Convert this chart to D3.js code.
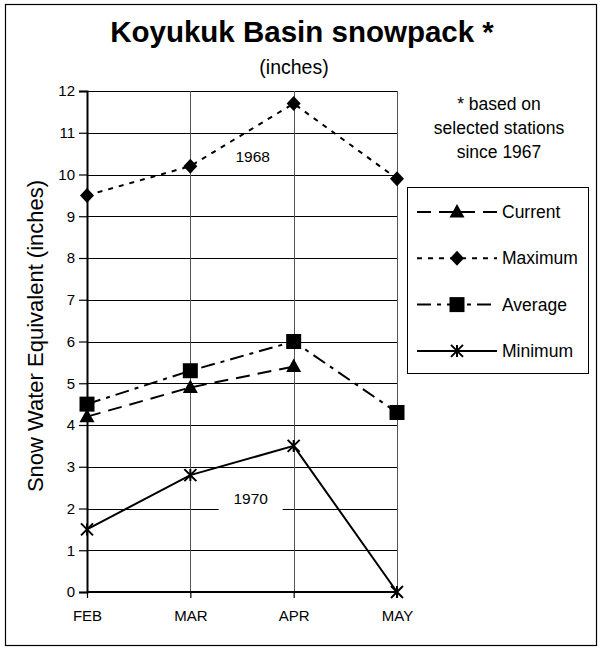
<!DOCTYPE html>
<html>
<head>
<meta charset="utf-8">
<script src="https://cdn.jsdelivr.net/npm/d3@7"></script>
<style>
  body { margin: 0; background: #fff; }
  text { font-family: "Liberation Sans", Arial, sans-serif; fill: #000; }
</style>
</head>
<body>
<div id="chart"></div>
<script>
// chart data
const months = ['FEB', 'MAR', 'APR', 'MAY'];
const yTicks = [0, 1, 2, 3, 4, 5, 6, 7, 8, 9, 10, 11, 12];
const current = [4.2, 4.9, 5.4, null];
const maximum = [9.5, 10.2, 11.7, 9.9];
const average = [4.5, 5.3, 6.0, 4.3];
const minimum = [1.5, 2.8, 3.5, 0];
const seriesNames = ['Current', 'Maximum', 'Average', 'Minimum'];
const noteLines = ['* based on', 'selected stations', 'since 1967'];
const yearLabels = [{text: '1968', month: 'APR', value: 10.45, dx: -41}, {text: '1970', month: 'APR', value: 2.25, dx: -43}];

const width = 600, height = 648;
const margin = {left: 87, right: 203, top: 91, bottom: 56};
const fontFam = '"Liberation Sans", Arial, sans-serif';

const svg = d3.select('#chart').append('svg')
  .attr('width', width)
  .attr('height', height);

// outer frame
svg.append('rect')
  .attr('x', 5.5).attr('y', 4.5)
  .attr('width', 591).attr('height', 641)
  .attr('fill', '#fff')
  .attr('stroke', '#000')
  .attr('stroke-width', 1.2);

const x = d3.scalePoint()
  .domain(months)
  .range([margin.left, width - margin.right]);

const y = d3.scaleLinear()
  .domain([0, 12])
  .range([height - margin.bottom, margin.top]);

// gridlines
svg.append('g')
  .selectAll('line')
  .data(yTicks)
  .enter().append('line')
  .attr('x1', x('FEB')).attr('x2', x('MAY'))
  .attr('y1', d => Math.round(y(d)) + 0.5).attr('y2', d => Math.round(y(d)) + 0.5)
  .attr('stroke', '#000')
  .attr('stroke-width', 1);

svg.append('g')
  .selectAll('line')
  .data(months.slice(1))
  .enter().append('line')
  .attr('x1', d => Math.round(x(d)) + 0.5).attr('x2', d => Math.round(x(d)) + 0.5)
  .attr('y1', y(12)).attr('y2', y(0))
  .attr('stroke', '#555')
  .attr('stroke-width', 1);

// axes
const yAxis = d3.axisLeft(y).tickValues(yTicks).tickSize(8).tickPadding(4);
const gy = svg.append('g')
  .attr('transform', 'translate(' + x('FEB') + ',0)')
  .call(yAxis);
gy.select('.domain').attr('stroke-width', 2);
gy.selectAll('.tick line').attr('stroke-width', 1.2);
gy.selectAll('text').style('font-size', '15px').style('font-family', fontFam);

const xAxis = d3.axisBottom(x).tickSize(6).tickPadding(12);
const gx = svg.append('g')
  .attr('transform', 'translate(0,' + y(0) + ')')
  .call(xAxis);
gx.select('.domain').attr('stroke-width', 2).attr('d', 'M' + x('FEB') + ',0H' + x('MAY'));
gx.selectAll('.tick line').attr('stroke-width', 1.2);
gx.selectAll('text').style('font-size', '15px').style('font-family', fontFam);

// year labels with white boxes
yearLabels.forEach(function(l) {
  const cx = x(l.month) + l.dx;
  const cy = y(l.value);
  svg.append('rect')
    .attr('x', cx - 32).attr('y', cy - 16)
    .attr('width', 64).attr('height', 30)
    .attr('fill', '#fff');
  svg.append('text')
    .attr('x', cx).attr('y', cy + 6)
    .attr('text-anchor', 'middle')
    .style('font-size', '15.5px')
    .text(l.text);
});

// markers
function drawMarker(g, type, px, py) {
  if (type === 'triangle') {
    g.append('path')
      .attr('d', 'M' + px + ',' + (py - 8) + 'L' + (px + 7.5) + ',' + (py + 5.5) + 'L' + (px - 7.5) + ',' + (py + 5.5) + 'Z')
      .attr('fill', '#000');
  } else if (type === 'diamond') {
    g.append('path')
      .attr('d', 'M' + px + ',' + (py - 7.5) + 'L' + (px + 7) + ',' + py + 'L' + px + ',' + (py + 7.5) + 'L' + (px - 7) + ',' + py + 'Z')
      .attr('fill', '#000');
  } else if (type === 'square') {
    g.append('rect')
      .attr('x', px - 7.5).attr('y', py - 7.5)
      .attr('width', 15).attr('height', 15)
      .attr('fill', '#000');
  } else if (type === 'star') {
    g.append('path')
      .attr('d', 'M' + (px - 6) + ',' + (py - 6) + 'L' + (px + 6) + ',' + (py + 6) +
                 'M' + (px + 6) + ',' + (py - 6) + 'L' + (px - 6) + ',' + (py + 6) +
                 'M' + px + ',' + (py - 6) + 'L' + px + ',' + (py + 6))
      .attr('stroke', '#000')
      .attr('stroke-width', 2)
      .attr('fill', 'none');
  }
}

const series = [
  {name: 'Current', values: current, dash: '14,8', marker: 'triangle'},
  {name: 'Maximum', values: maximum, dash: '5,6', marker: 'diamond'},
  {name: 'Average', values: average, dash: '14,6,4,6', marker: 'square'},
  {name: 'Minimum', values: minimum, dash: null, marker: 'star'}
];

const line = d3.line()
  .defined(d => d.v !== null)
  .x(d => x(d.m))
  .y(d => y(d.v));

series.forEach(function(s) {
  const pts = months.map((m, i) => ({m: m, v: s.values[i]}));
  const g = svg.append('g');
  g.append('path')
    .datum(pts)
    .attr('d', line)
    .attr('fill', 'none')
    .attr('stroke', '#000')
    .attr('stroke-width', 2)
    .attr('stroke-dasharray', s.dash);
  pts.filter(d => d.v !== null).forEach(d => drawMarker(g, s.marker, x(d.m), y(d.v)));
});

// title
svg.append('text')
  .attr('x', 302).attr('y', 42)
  .attr('text-anchor', 'middle')
  .style('font-size', '29.5px')
  .style('font-weight', 'bold')
  .text('Koyukuk Basin snowpack *');

svg.append('text')
  .attr('x', 294).attr('y', 74)
  .attr('text-anchor', 'middle')
  .style('font-size', '19.5px')
  .text('(inches)');

// y axis title
svg.append('text')
  .attr('transform', 'translate(43,336) rotate(-90)')
  .attr('text-anchor', 'middle')
  .style('font-size', '22px')
  .text('Snow Water Equivalent (inches)');

// note
svg.append('g')
  .selectAll('text')
  .data(noteLines)
  .enter().append('text')
  .attr('x', 499)
  .attr('y', (d, i) => 110 + i * 24)
  .attr('text-anchor', 'middle')
  .style('font-size', '17.5px')
  .text(d => d);

// legend
const legend = svg.append('g');
legend.append('rect')
  .attr('x', 407.5).attr('y', 187.5)
  .attr('width', 181).attr('height', 186)
  .attr('fill', '#fff')
  .attr('stroke', '#000')
  .attr('stroke-width', 1);

series.forEach(function(s, i) {
  const ly = 212 + i * 46.3;
  legend.append('line')
    .attr('x1', 417).attr('x2', 497)
    .attr('y1', ly).attr('y2', ly)
    .attr('stroke', '#000')
    .attr('stroke-width', 2)
    .attr('stroke-dasharray', s.dash);
  drawMarker(legend, s.marker, 457, ly);
  legend.append('text')
    .attr('x', 502).attr('y', ly + 6)
    .style('font-size', '17.5px')
    .text(seriesNames[i]);
});
</script>
</body>
</html>
